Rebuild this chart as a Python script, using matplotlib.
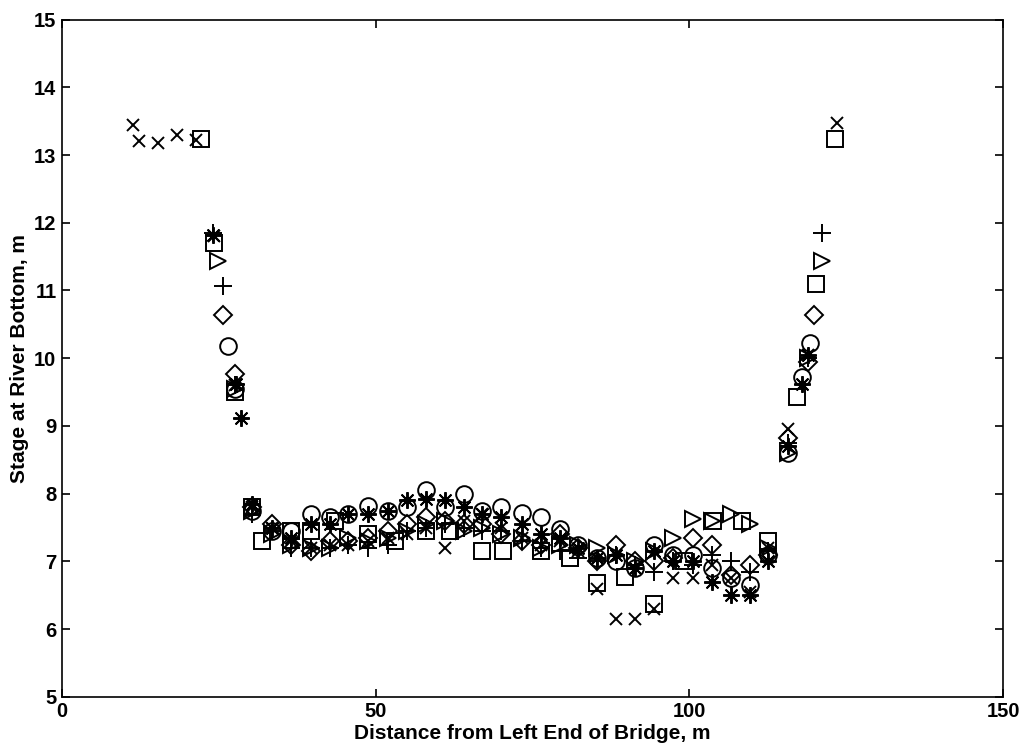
import matplotlib.pyplot as plt

plt.rcParams['font.family'] = ['Liberation Sans', 'DejaVu Sans']

mid_x = [30.3, 33.5, 36.5, 39.7, 42.7, 45.6, 48.8, 52.0, 55.0, 58.0, 61.0, 64.0, 67.0, 70.0,
         73.3, 76.4, 79.4, 82.3, 85.3, 88.3, 91.3, 94.4, 97.4, 100.6, 103.6, 106.6, 109.7, 112.5]

# cross series
cross_x = [11.3, 12.3, 15.3, 18.3, 21.4, 24.2, 27.6] + mid_x + [115.7, 118.9, 123.5]
cross_y = [13.45, 13.2, 13.18, 13.3, 13.22, 11.8, 9.6,
           7.8, 7.5, 7.3, 7.2, 7.25, 7.25, 7.3, 7.35, 7.4, 7.5, 7.2, 7.6, 7.7, 7.5,
           7.35, 7.25, 7.3, 7.15, 6.6, 6.15, 6.15, 6.3, 6.75, 6.75, 6.95, 6.75, 6.55, 7.2,
           8.95, 10.05, 13.47]

# square series
square_x = [22.2, 24.2, 27.5, 30.3, 31.9, 36.5, 39.7, 43.5, 48.8, 53.0, 58.0, 61.8, 67.0, 70.3,
            76.4, 81.0, 85.3, 89.8, 94.4, 99.2, 103.8, 108.3, 112.5, 117.2, 120.2, 123.2]
square_y = [13.24, 11.7, 9.5, 7.8, 7.3, 7.45, 7.45, 7.6, 7.4, 7.3, 7.45, 7.45, 7.15, 7.15,
            7.15, 7.05, 6.68, 6.77, 6.37, 7.0, 7.6, 7.6, 7.3, 9.43, 11.1, 13.24]

# triangle series
tri_x = [24.9, 27.6] + mid_x + [115.7, 118.9, 121.2]
tri_y = [11.44, 9.55,
         7.75, 7.4, 7.25, 7.2, 7.2, 7.35, 7.3, 7.35, 7.45, 7.55, 7.6, 7.45, 7.5, 7.4,
         7.35, 7.2, 7.25, 7.25, 7.2, 7.1, 7.0, 7.15, 7.35, 7.62, 7.6, 7.7, 7.55, 7.2,
         8.6, 10.0, 11.43]

# plus series
plus_x = [24.1, 25.6, 27.6] + mid_x + [115.7, 118.9, 121.2]
plus_y = [11.85, 11.07, 9.6,
          7.7, 7.45, 7.2, 7.2, 7.2, 7.25, 7.2, 7.25, 7.45, 7.5, 7.55, 7.5, 7.45, 7.45,
          7.3, 7.2, 7.15, 7.05, 7.0, 7.1, 6.95, 6.85, 7.0, 6.95, 7.1, 7.0, 6.85, 7.15,
          8.75, 10.0, 11.85]

# diamond series
dia_x = [25.6, 27.5] + mid_x + [115.7, 118.9, 119.9]
dia_y = [10.64, 9.76,
         7.8, 7.55, 7.25, 7.15, 7.3, 7.3, 7.35, 7.45, 7.55, 7.65, 7.6, 7.55, 7.55, 7.4,
         7.3, 7.25, 7.4, 7.2, 7.0, 7.25, 7.0, 7.0, 7.05, 7.35, 7.25, 6.8, 6.95, 7.1,
         8.82, 9.95, 10.64]

# circle series
circ_x = [26.4, 27.6] + mid_x + [115.7, 118.0, 119.2]
circ_y = [10.18, 9.55,
          7.75, 7.45, 7.45, 7.7, 7.65, 7.7, 7.82, 7.75, 7.8, 8.05, 7.8, 8.0, 7.75, 7.8,
          7.72, 7.65, 7.48, 7.25, 7.05, 7.0, 6.9, 7.25, 7.1, 7.1, 6.9, 6.75, 6.65, 7.1,
          8.6, 9.72, 10.22]

# star series
star_x = [24.1, 27.7, 28.6] + mid_x + [115.7, 118.0, 118.9]
star_y = [11.82, 9.62, 9.12,
          7.85, 7.5, 7.35, 7.55, 7.55, 7.7, 7.7, 7.75, 7.9, 7.92, 7.9, 7.8, 7.7, 7.65,
          7.55, 7.4, 7.35, 7.2, 7.05, 7.1, 6.9, 7.15, 7.0, 7.0, 6.7, 6.5, 6.5, 7.0,
          8.7, 9.62, 10.05]

fig = plt.figure(figsize=(10.23, 7.51), dpi=100)
ax = fig.add_axes([0.0606, 0.072, 0.92, 0.902])

kw = dict(linestyle='none', color='k', markerfacecolor='none', markeredgewidth=1.4)
ax.plot(cross_x, cross_y, marker='x', markersize=9, **kw)
ax.plot(square_x, square_y, marker='s', markersize=12, **kw)
ax.plot(tri_x, tri_y, marker='>', markersize=12, **kw)
ax.plot(plus_x, plus_y, marker='+', markersize=13, **kw)
ax.plot(dia_x, dia_y, marker='D', markersize=9, **kw)
ax.plot(circ_x, circ_y, marker='o', markersize=12, **kw)
ax.plot(star_x, star_y, marker=(8, 2, 0), markersize=12, **kw)

ax.set_xlim(0, 150)
ax.set_ylim(5, 15)
ax.set_xticks([0, 50, 100, 150])
ax.set_yticks(range(5, 16))
ax.tick_params(direction='in', top=True, right=True, length=6, width=1.2, labelsize=14.5, pad=4)
for lbl in ax.get_xticklabels() + ax.get_yticklabels():
    lbl.set_fontweight('bold')
for s in ax.spines.values():
    s.set_linewidth(1.2)
ax.set_xlabel('Distance from Left End of Bridge, m', fontsize=15, fontweight='bold', labelpad=2)
ax.set_ylabel('Stage at River Bottom, m', fontsize=15, fontweight='bold', labelpad=4)

fig.savefig('out.png', dpi=100)
